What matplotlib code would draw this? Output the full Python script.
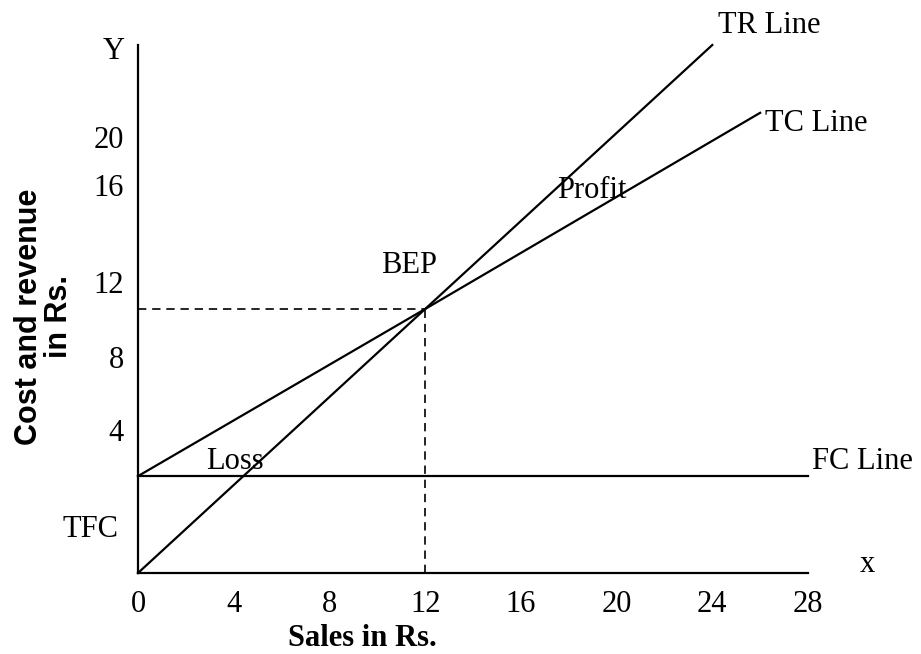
import matplotlib
matplotlib.use("Agg")
import matplotlib.pyplot as plt

# break-even chart data (schematic values)
tr_sales = [0, 12, 24]
tr_value = [0, 10.9, 21.8]
tc_sales = [0, 12, 26]
tc_value = [4, 10.9, 19.0]
fc_sales = [0, 28]
fc_value = [4, 4]
bep = (12, 10.9)

x_ticks = [0, 4, 8, 12, 16, 20, 24, 28]
y_tick_pos = [5.9, 8.9, 12, 16, 18]
y_tick_labels = ["4", "8", "12", "16", "20"]

serif = "Liberation Serif"
sans = "Liberation Sans"
fs = 22

fig = plt.figure(figsize=(9.21, 6.54), dpi=100)
ax = fig.add_axes([138 / 921, 81 / 654, 670 / 921, 528 / 654])
ax.set_xlim(0, 28)
ax.set_ylim(0, 21.8)

for s in ["top", "right"]:
    ax.spines[s].set_visible(False)
for s in ["left", "bottom"]:
    ax.spines[s].set_linewidth(1.6)

lw = 1.6
ax.plot(tr_sales, tr_value, color="black", lw=lw, clip_on=False)
ax.plot(tc_sales, tc_value, color="black", lw=lw, clip_on=False)
ax.plot(fc_sales, fc_value, color="black", lw=lw, clip_on=False)

# dashed guides to the break-even point
ax.plot([0, bep[0]], [bep[1], bep[1]], color="black", lw=1.2, ls=(0, (5, 3.5)))
ax.plot([bep[0], bep[0]], [0, bep[1]], color="black", lw=1.2, ls=(0, (5, 3.5)))

ax.set_xticks(x_ticks)
ax.set_xticklabels([str(v) for v in x_ticks], fontfamily=serif, fontsize=fs)
ax.set_yticks(y_tick_pos)
ax.set_yticklabels(y_tick_labels, fontfamily=serif, fontsize=fs)
ax.tick_params(axis="x", length=0, pad=12)
ax.tick_params(axis="y", length=0, pad=10)

txt = dict(fontfamily=serif, fontsize=fs, color="black", va="center")
ax.text(24.25, 22.6, "TR Line", ha="left", **txt)
ax.text(26.2, 18.55, "TC Line", ha="left", **txt)
ax.text(28.15, 4.6, "FC Line", ha="left", **txt)
ax.text(17.5, 15.8, "Profit", ha="left", **txt)
ax.text(10.15, 12.7, "BEP", ha="left", **txt)
ax.text(2.85, 4.6, "Loss", ha="left", **txt)
ax.text(-0.82, 1.8, "TFC", ha="right", **txt)
ax.text(30.5, 0.35, "x", ha="center", **txt)
ax.text(-0.55, 21.55, "Y", ha="right", **txt)

fig.text(362 / 921, 1 - 638 / 654, "Sales in Rs.", fontfamily=serif,
         fontsize=fs, fontweight="bold", ha="center", va="center")
fig.text(44 / 921, 1 - 317 / 654, "Cost and revenue\nin Rs.", fontfamily=sans,
         fontsize=fs, fontweight="bold", ha="center", va="center",
         rotation=90, linespacing=1.0)

fig.savefig("out.png", dpi=100)
